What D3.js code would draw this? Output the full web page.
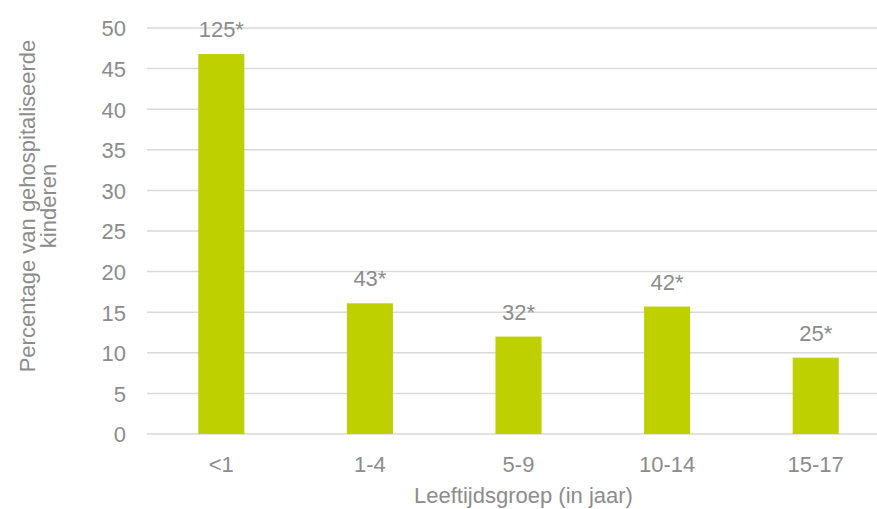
<!DOCTYPE html>
<html>
<head>
<meta charset="utf-8">
<script src="https://cdn.jsdelivr.net/npm/d3@7"></script>
<style>
  html, body { margin: 0; padding: 0; background: #ffffff; }
  svg { display: block; }
  text { font-family: "Liberation Sans", Arial, sans-serif; fill: #8c8c8c; }
</style>
</head>
<body>
<script>
const categories = ["<1", "1-4", "5-9", "10-14", "15-17"];
const percentages = [46.8, 16.1, 12.0, 15.7, 9.4];
const counts = ["125*", "43*", "32*", "42*", "25*"];
const yTicks = [0, 5, 10, 15, 20, 25, 30, 35, 40, 45, 50];
const yTitle = ["Percentage van gehospitaliseerde", "kinderen"];
const xTitle = "Leeftijdsgroep (in jaar)";

const W = 877, H = 509;
const plot = { left: 147, right: 890, top: 28, bottom: 434 };

const svg = d3.select("body").append("svg")
  .attr("width", W).attr("height", H);

const x = d3.scaleBand()
  .domain(categories)
  .range([plot.left, plot.right])
  .paddingInner(0.69)
  .paddingOuter(0.345);

const y = d3.scaleLinear()
  .domain([0, 50])
  .range([plot.bottom, plot.top]);

// gridlines
svg.append("g")
  .selectAll("line")
  .data(yTicks)
  .join("line")
  .attr("x1", plot.left).attr("x2", plot.right)
  .attr("y1", d => y(d)).attr("y2", d => y(d))
  .attr("stroke", "#d9d9d9").attr("stroke-width", 1.5);

// y axis labels
const yAxis = d3.axisLeft(y).tickValues(yTicks).tickSize(0).tickPadding(0);
const gy = svg.append("g").attr("transform", `translate(126,0)`).call(yAxis);
gy.select(".domain").remove();
gy.selectAll("text")
  .attr("font-size", 22)
  .attr("fill", "#8c8c8c")
  .attr("font-family", "Liberation Sans, Arial, sans-serif")
  .attr("dy", "0.36em");

// x axis labels
const xAxis = d3.axisBottom(x).tickSize(0).tickPadding(0);
const gx = svg.append("g").attr("transform", `translate(0,${plot.bottom})`).call(xAxis);
gx.select(".domain").remove();
gx.selectAll("text")
  .attr("font-size", 22)
  .attr("fill", "#8c8c8c")
  .attr("font-family", "Liberation Sans, Arial, sans-serif")
  .attr("y", 38).attr("dy", 0);

// bars
svg.append("g")
  .selectAll("rect")
  .data(categories)
  .join("rect")
  .attr("x", d => x(d))
  .attr("width", x.bandwidth())
  .attr("y", (d, i) => y(percentages[i]))
  .attr("height", (d, i) => y(0) - y(percentages[i]))
  .attr("fill", "#bed000");

// value labels
svg.append("g")
  .selectAll("text")
  .data(categories)
  .join("text")
  .attr("x", d => x(d) + x.bandwidth() / 2)
  .attr("y", (d, i) => y(percentages[i]) - 17)
  .attr("text-anchor", "middle")
  .attr("font-size", 22)
  .text((d, i) => counts[i]);

// y title
const yt = svg.append("text")
  .attr("transform", "translate(0,206) rotate(-90)")
  .attr("text-anchor", "middle")
  .attr("font-size", 22);
yt.selectAll("tspan")
  .data(yTitle)
  .join("tspan")
  .attr("x", 0)
  .attr("y", (d, i) => 35 + i * 21)
  .text(d => d);

// x title
svg.append("text")
  .attr("x", (plot.left + plot.right) / 2 + 5)
  .attr("y", 503)
  .attr("text-anchor", "middle")
  .attr("font-size", 22)
  .text(xTitle);
</script>
</body>
</html>
